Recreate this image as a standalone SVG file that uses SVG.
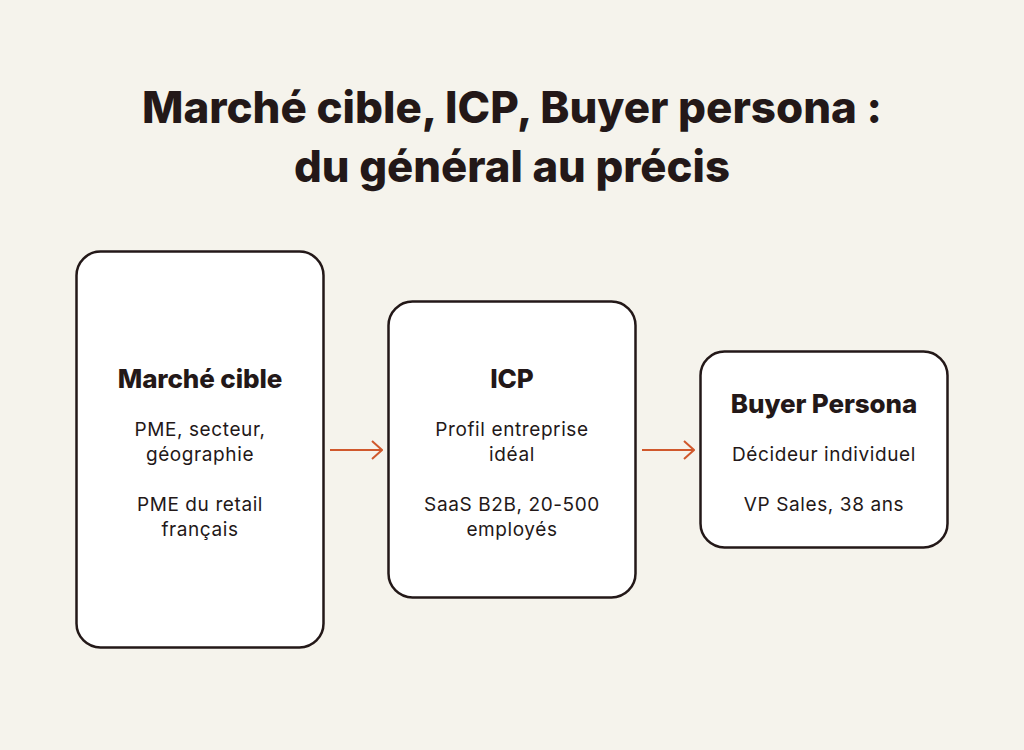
<svg xmlns="http://www.w3.org/2000/svg" width="1024" height="750" viewBox="0 0 1024 750">
<defs>
<style>
.bg{fill:#f5f3ec}
.box{fill:#ffffff;stroke:#231818;stroke-width:2.5}
.title{font-family:Inter,"Liberation Sans",sans-serif;font-weight:800;font-size:44px;fill:#231818;text-anchor:middle}
.h{font-family:Inter,"Liberation Sans",sans-serif;font-weight:800;font-size:26px;fill:#231818;text-anchor:middle;letter-spacing:-0.1px}
.t{font-family:Inter,"Liberation Sans",sans-serif;font-size:19px;fill:#231818;text-anchor:middle;letter-spacing:0.6px}
.conn{stroke:#d0582c;stroke-width:2;fill:none}
</style>
<marker id="arr" viewBox="0 0 12 20" refX="11" refY="10" markerWidth="12" markerHeight="20" markerUnits="userSpaceOnUse" orient="auto">
<path d="M1,1 L11,10 L1,19" fill="none" stroke="#d0582c" stroke-width="2"/>
</marker>
</defs>
<rect class="bg" x="0" y="0" width="1024" height="750"/>
<g id="title">
<text class="title" x="512" y="123" textLength="740" lengthAdjust="spacingAndGlyphs">Marché cible, ICP, Buyer persona :</text>
<text class="title" x="512" y="182" textLength="436" lengthAdjust="spacingAndGlyphs">du général au précis</text>
</g>
<g id="connectors">
<line class="conn" x1="330" y1="450" x2="382" y2="450" marker-end="url(#arr)"/>
<line class="conn" x1="642" y1="450" x2="694" y2="450" marker-end="url(#arr)"/>
</g>
<g id="marche-cible">
<rect class="box" x="76.5" y="251.5" width="247" height="396" rx="24"/>
<text class="h" x="200" y="388">Marché cible</text>
<text class="t" x="200" y="436">PME, secteur,</text>
<text class="t" x="200" y="461">géographie</text>
<text class="t" x="200" y="511">PME du retail</text>
<text class="t" x="200" y="536">français</text>
</g>
<g id="icp">
<rect class="box" x="388.5" y="301.5" width="247" height="296" rx="24"/>
<text class="h" x="512" y="388">ICP</text>
<text class="t" x="512" y="436">Profil entreprise</text>
<text class="t" x="512" y="461">idéal</text>
<text class="t" x="512" y="511">SaaS B2B, 20-500</text>
<text class="t" x="512" y="536">employés</text>
</g>
<g id="buyer-persona">
<rect class="box" x="700.5" y="351.5" width="247" height="196" rx="24"/>
<text class="h" x="824" y="413">Buyer Persona</text>
<text class="t" x="824" y="461">Décideur individuel</text>
<text class="t" x="824" y="511">VP Sales, 38 ans</text>
</g>
</svg>
